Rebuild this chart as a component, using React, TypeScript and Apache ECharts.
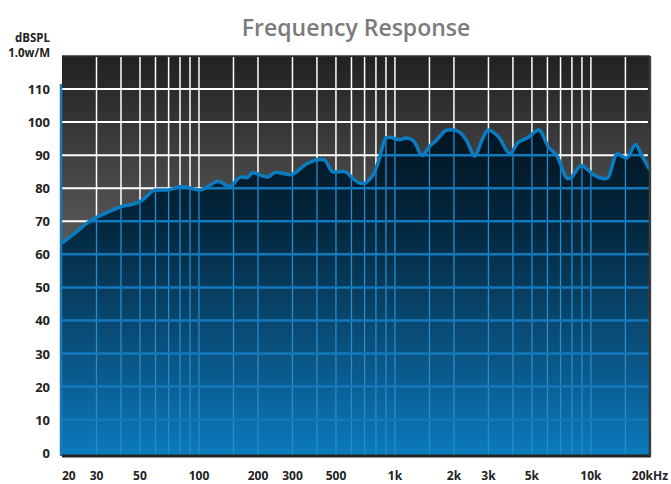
import { useEffect, useRef } from 'react';
import * as echarts from 'echarts';

// Frequency (Hz) and SPL (dB)
const freqHz = [20, 23.7, 27, 32.3, 40.8, 45.7, 51.2, 60, 70, 81, 101, 111, 125, 143, 164, 176, 188, 224, 246, 293, 355, 416, 441, 485, 545, 638, 688, 771, 827, 890, 937, 1056, 1139, 1250, 1376, 1514, 1640, 1805, 1950, 2146, 2320, 2557, 2773, 2995, 3370, 3864, 4260, 4797, 5400, 6080, 6696, 7640, 7945, 8960, 10400, 11730, 12300, 13700, 15150, 16900, 18000, 20000];
const splDb = [63.4, 66.8, 69.6, 72.1, 74.6, 75.1, 76.3, 79.5, 79.5, 80.5, 79.5, 80.5, 82.1, 80.5, 83.4, 83.2, 84.7, 83.4, 84.8, 84.1, 87.4, 88.7, 88.4, 84.9, 85.1, 82, 81.4, 83.9, 88.4, 94.9, 95.4, 94.7, 95.2, 94.2, 89.9, 92.9, 94.7, 97.4, 97.7, 96.9, 94.4, 89.7, 94.4, 97.6, 95.6, 90.4, 93.9, 95.4, 97.7, 92.4, 89.9, 82.9, 83.2, 86.9, 83.9, 82.9, 83.4, 90.4, 89.1, 93.2, 90.4, 85.5];

// Grid and tick definitions
const gridFreqs = [30, 40, 50, 60, 70, 80, 90, 100, 150, 200, 300, 400, 500, 600, 700, 800, 900, 1000, 1500, 2000, 3000, 4000, 5000, 6000, 7000, 8000, 9000, 10000, 15000];
const gridLevels = [10, 20, 30, 40, 50, 60, 70, 80, 90, 100, 110];
const xLabelHz = [20, 30, 50, 100, 200, 300, 500, 1000, 2000, 3000, 5000, 10000, 20000];
const yLabelDb = [0, 10, 20, 30, 40, 50, 60, 70, 80, 90, 100, 110];

const FREQ_MIN = 20;
const FREQ_MAX = 20000;
const DB_MIN = -1;
const DB_MAX = 120;
const AXIS_TOP_DB = 111.5;

const LOG = (f: number) => Math.log10(f);
const X_MIN = LOG(FREQ_MIN);
const X_MAX = LOG(FREQ_MAX);

const points: number[][] = freqHz.map((f, i) => [LOG(f), splDb[i]]);

function valueAt(lx: number): number {
  for (let i = 0; i < points.length - 1; i++) {
    const a = points[i];
    const b = points[i + 1];
    if (lx >= a[0] && lx <= b[0]) {
      const t = (lx - a[0]) / (b[0] - a[0]);
      return a[1] + t * (b[1] - a[1]);
    }
  }
  return points[points.length - 1][1];
}

function aboveSegments(level: number): number[][] {
  const segs: number[][] = [];
  let start: number | null = null;
  for (let i = 0; i < points.length - 1; i++) {
    const a = points[i];
    const b = points[i + 1];
    const aUp = a[1] >= level;
    const bUp = b[1] >= level;
    if (aUp && start === null) start = a[0];
    if (aUp !== bUp) {
      const t = (level - a[1]) / (b[1] - a[1]);
      const xc = a[0] + t * (b[0] - a[0]);
      if (aUp) {
        segs.push([start as number, xc]);
        start = null;
      } else {
        start = xc;
      }
    }
  }
  if (start !== null) segs.push([start, points[points.length - 1][0]]);
  return segs;
}

const FONT = '"Open Sans", "Noto Sans", sans-serif';

export default function App() {
  const ref = useRef<HTMLDivElement>(null);

  useEffect(() => {
    if (!ref.current) return;
    const chart = echarts.init(ref.current, null, { renderer: 'svg' });

    const bgGradient = new echarts.graphic.LinearGradient(0, 0, 0, 1, [
      { offset: 0, color: '#212121' },
      { offset: 1, color: '#9a9a9a' },
    ]);
    const fillGradient = new echarts.graphic.LinearGradient(0, 0, 0, 1, [
      { offset: 0, color: '#011420' },
      { offset: 0.3, color: '#03283f' },
      { offset: 0.5, color: '#073e60' },
      { offset: 0.75, color: '#0a5b8e' },
      { offset: 1, color: '#0b7bbd' },
    ]);

    const option: any = {
      animation: false,
      grid: { left: 62, right: 14, top: 56, bottom: 28 },
      graphic: [
        {
          type: 'text',
          x: 356,
          y: 27,
          style: {
            text: 'Frequency Response',
            align: 'center',
            verticalAlign: 'middle',
            fill: '#7b7b7b',
            fontSize: 23,
            fontWeight: 600,
            fontFamily: FONT,
          },
        },
        {
          type: 'text',
          x: 50,
          y: 37,
          style: {
            text: 'dBSPL',
            align: 'right',
            verticalAlign: 'middle',
            fill: '#222',
            fontSize: 11.5,
            lineHeight: 13,
            fontWeight: 'bold',
            fontFamily: FONT,
          },
        },
        {
          type: 'text',
          x: 50,
          y: 52,
          style: {
            text: '1.0w/M',
            align: 'right',
            verticalAlign: 'middle',
            fill: '#222',
            fontSize: 11.5,
            lineHeight: 13,
            fontWeight: 'bold',
            fontFamily: FONT,
          },
        },
      ],
      xAxis: {
        type: 'value',
        min: X_MIN,
        max: X_MAX,
        axisLine: { show: false },
        axisTick: { show: false },
        splitLine: { show: false },
        axisLabel: {
          customValues: xLabelHz.map(LOG),
          alignMinLabel: 'left',
          margin: 13,
          color: '#222',
          fontSize: 12,
          fontWeight: 'bold',
          fontFamily: FONT,
          formatter: (v: number) => {
            const f = Math.round(Math.pow(10, v));
            if (f >= 20000) return '20kHz';
            if (f >= 1000) return f / 1000 + 'k';
            return String(f);
          },
        },
      },
      yAxis: {
        type: 'value',
        min: DB_MIN,
        max: DB_MAX,
        axisLine: { show: false },
        axisTick: { show: false },
        splitLine: { show: false },
        axisLabel: {
          customValues: yLabelDb,
          margin: 12,
          padding: [0, 0, 6, 0],
          color: '#222',
          fontSize: 13,
          fontWeight: 'bold',
          fontFamily: FONT,
        },
      },
      series: [
        {
          type: 'custom',
          z: 1,
          silent: true,
          data: [[X_MIN, 0]],
          renderItem: (_params: any, api: any) => {
            const tl = api.coord([X_MIN, DB_MAX]);
            const br = api.coord([X_MAX, DB_MIN]);
            const children: any[] = [
              {
                type: 'rect',
                shape: { x: tl[0], y: tl[1], width: br[0] - tl[0], height: br[1] - tl[1] },
                style: { fill: bgGradient },
              },
            ];
            gridFreqs.forEach((f) => {
              const x = api.coord([LOG(f), 0])[0];
              children.push({
                type: 'line',
                shape: { x1: x, y1: tl[1] + 1, x2: x, y2: br[1] },
                style: { stroke: '#ffffff', lineWidth: 1.5 },
              });
            });
            gridLevels.forEach((L) => {
              const y = api.coord([X_MIN, L])[1];
              children.push({
                type: 'line',
                shape: { x1: tl[0], y1: y, x2: br[0] - 2, y2: y },
                style: { stroke: '#ffffff', lineWidth: 2 },
              });
            });
            return { type: 'group', children };
          },
        },
        {
          type: 'line',
          z: 2,
          silent: true,
          data: points,
          smooth: 0.3,
          showSymbol: false,
          symbol: 'none',
          lineStyle: { width: 0, opacity: 0 },
          areaStyle: { color: fillGradient, opacity: 1, origin: 'start' },
        },
        {
          type: 'custom',
          z: 3,
          silent: true,
          data: [[X_MIN, 0]],
          renderItem: (_params: any, api: any) => {
            const children: any[] = [];
            const bottom = api.coord([X_MIN, DB_MIN])[1];
            gridFreqs.forEach((f) => {
              const lx = LOG(f);
              const p = api.coord([lx, valueAt(lx)]);
              children.push({
                type: 'line',
                shape: { x1: p[0], y1: p[1], x2: p[0], y2: bottom },
                style: { stroke: '#2a8ccd', lineWidth: 1.3 },
              });
            });
            gridLevels.forEach((L) => {
              aboveSegments(L).forEach((s) => {
                const a = api.coord([s[0], L]);
                const b = api.coord([s[1], L]);
                children.push({
                  type: 'line',
                  shape: { x1: a[0], y1: a[1], x2: b[0], y2: b[1] },
                  style: { stroke: '#1478bb', lineWidth: 2.5 },
                });
              });
            });
            const axTop = api.coord([X_MIN, AXIS_TOP_DB]);
            children.push({
              type: 'line',
              shape: { x1: axTop[0] - 1, y1: axTop[1], x2: axTop[0] - 1, y2: bottom },
              style: { stroke: '#1a7ab8', lineWidth: 2.5 },
            });
            return { type: 'group', children };
          },
        },
        {
          type: 'line',
          z: 4,
          silent: true,
          data: points,
          smooth: 0.3,
          showSymbol: false,
          symbol: 'none',
          lineStyle: { color: '#0a7dc2', width: 3.5 },
        },
        {
          type: 'custom',
          z: 5,
          silent: true,
          data: [[X_MIN, 0]],
          renderItem: (_params: any, api: any) => {
            const tl = api.coord([X_MIN, DB_MAX]);
            const br = api.coord([X_MAX, DB_MIN]);
            return {
              type: 'group',
              children: [
                {
                  type: 'line',
                  shape: { x1: tl[0], y1: br[1], x2: br[0] + 1, y2: br[1] },
                  style: { stroke: '#222222', lineWidth: 3 },
                },
                {
                  type: 'line',
                  shape: { x1: br[0], y1: tl[1], x2: br[0], y2: br[1] },
                  style: { stroke: '#3a3a3a', lineWidth: 2.5 },
                },
                {
                  type: 'line',
                  shape: { x1: tl[0], y1: tl[1], x2: br[0], y2: tl[1] },
                  style: { stroke: '#303030', lineWidth: 1.5 },
                },
              ],
            };
          },
        },
      ],
    };

    chart.setOption(option);
    return () => chart.dispose();
  }, []);

  return <div ref={ref} style={{ width: 671, height: 484, position: 'absolute', left: 0, top: 0 }} />;
}
